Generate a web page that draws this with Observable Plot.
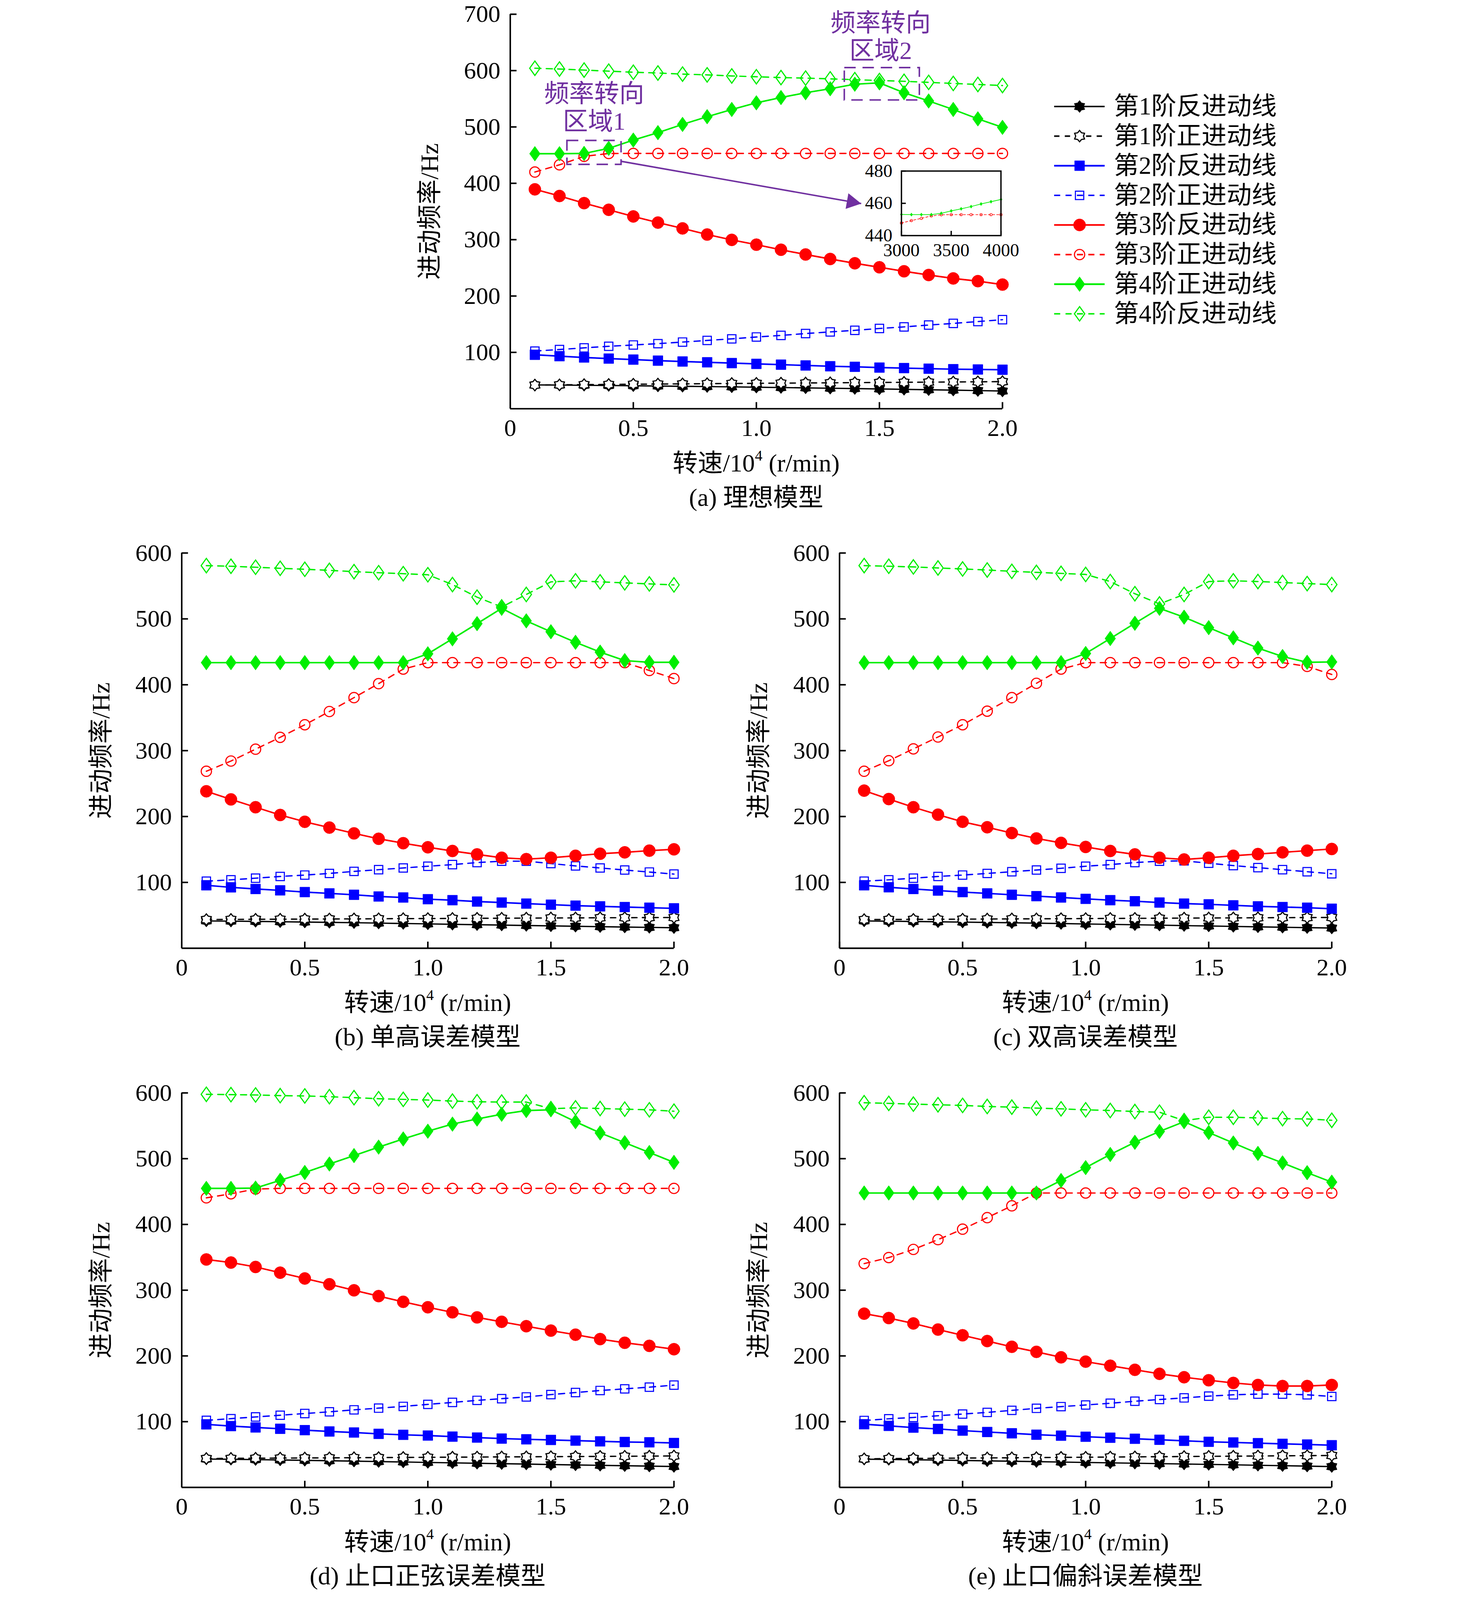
<!DOCTYPE html>
<html><head><meta charset="utf-8">
<script src="https://cdn.jsdelivr.net/npm/d3@7"></script>
<script src="https://cdn.jsdelivr.net/npm/@observablehq/plot@0.6"></script>
<style>
html,body{margin:0;padding:0;background:#fff;overflow:hidden}
#root{position:relative;width:3780px;height:4214px;background:#fff;overflow:hidden;font-family:"Liberation Serif","Noto Sans CJK SC",serif;color:#000;transform-origin:0 0}
.lbl{position:absolute;white-space:nowrap;font-size:66px;line-height:66px;height:66px;text-align:center}
.ylbl{position:absolute;white-space:nowrap;font-size:66px;line-height:1;transform:translate(-50%,-50%) rotate(-90deg)}
.lbl sup{font-size:0.6em;position:relative;top:-0.15em;vertical-align:top;line-height:1}
</style></head><body><div id="root"></div>
<script>
// ---------- data ----------
const speed = [0.1,0.2,0.3,0.4,0.5,0.6,0.7,0.8,0.9,1.0,1.1,1.2,1.3,1.4,1.5,1.6,1.7,1.8,1.9,2.0];
const seriesNames = ["第1阶反进动线","第1阶正进动线","第2阶反进动线","第2阶正进动线","第3阶反进动线","第3阶正进动线","第4阶正进动线","第4阶反进动线"];

// (a) 理想模型
const aB1 = [42.3,42.0,41.6,41.2,40.8,40.3,39.8,39.3,38.8,38.2,37.6,37.0,36.4,35.8,35.1,34.4,33.7,33.0,32.2,31.4];
const aF1 = [42.0,42.4,42.8,43.1,43.5,43.8,44.1,44.5,44.8,45.1,45.4,45.7,46.0,46.3,46.6,46.9,47.2,47.5,47.8,48.1];
const aB2 = [95.7,93.3,90.9,89.0,87.2,85.3,83.8,82.4,81.0,79.6,78.2,76.8,75.4,74.4,73.0,72.1,71.1,70.2,69.7,69.2];
const aF2 = [102.3,105.1,108.0,110.8,113.1,115.5,118.3,121.2,124.0,127.3,130.1,133.4,136.3,139.1,142.4,145.2,148.5,151.4,154.7,158.0];
const aB3 = [389.3,377.5,364.8,353.0,341.2,330.3,320.0,309.1,299.6,291.1,282.1,273.7,265.7,258.1,251.0,243.9,237.3,231.2,226.4,220.3];
const aF3 = [420.0,432.8,447.8,452.9,453.0,453.0,453.0,453.0,453.0,453.0,453.0,453.0,453.0,453.0,453.0,453.0,453.0,453.0,453.0,453.0];
const aF4 = [452.5,452.5,453.0,462.0,476.7,489.9,504.5,518.2,531.0,542.8,552.2,560.7,567.8,575.8,578.2,560.7,546.1,531.0,514.4,499.3];
const aB4 = [604.2,602.8,600.9,599.0,597.1,595.7,593.8,592.4,590.5,589.1,587.6,586.7,585.3,583.9,582.4,581.0,579.1,577.2,575.4,573.5];

// inset of (a)
const insetSpeed = [3000,3100,3200,3300,3400,3500,3600,3700,3800,3900,4000];
const insetF4 = [453.1,453.0,453.0,453.0,453.8,455.3,456.6,458.0,459.6,461.0,462.4];
const insetF3 = [447.8,449.3,450.7,452.2,452.9,453.0,453.0,453.0,453.0,453.0,453.0];

// (b) 单高误差模型
const bB1 = [41.5,41.2,40.8,40.3,39.8,39.3,38.8,38.2,37.6,37.0,36.4,35.8,35.2,34.6,34.0,33.4,32.8,32.2,31.7,31.2];
const bF1 = [43.6,43.8,44.0,44.1,44.3,44.5,44.6,44.8,45.0,45.1,45.3,45.5,45.6,45.8,46.0,46.1,46.3,46.4,46.6,46.7];
const bB2 = [95.6,92.5,90.0,87.9,85.3,83.3,81.2,78.6,77.1,74.5,73.0,70.9,69.4,67.8,66.2,64.7,63.6,62.6,61.6,60.6];
const bF2 = [101.8,103.9,106.4,109.0,111.1,113.6,116.7,119.3,121.9,124.5,127.0,130.1,132.2,132.2,128.6,125.0,121.9,118.8,115.7,112.6];
const bB3 = [238.3,226.0,214.1,202.3,192.0,183.2,174.4,166.2,159.5,153.3,147.7,142.5,137.4,135.3,137.4,140.4,143.5,145.6,148.2,150.2];
const bF3 = [268.7,284.2,302.2,320.2,339.3,359.4,380.5,401.7,423.8,433.6,433.6,433.6,433.6,433.6,433.6,433.6,433.6,433.6,421.7,409.4];
const bF4 = [433.6,433.6,433.6,433.6,433.6,433.6,433.6,433.6,433.6,447.0,469.7,492.8,516.0,497.0,480.5,464.5,449.6,436.7,434.1,434.1];
const bB4 = [580.9,579.9,578.4,576.8,575.3,573.7,571.7,570.1,568.6,567.0,552.1,533.0,518.1,537.1,556.2,557.8,556.2,554.7,553.1,551.6];

// (c) 双高误差模型
const cB1 = [41.5,41.1,40.7,40.2,39.7,39.2,38.7,38.1,37.5,36.9,36.3,35.7,35.1,34.4,33.8,33.2,32.5,31.9,31.3,30.7];
const cF1 = [43.5,43.7,43.9,44.0,44.2,44.4,44.6,44.7,44.9,45.1,45.3,45.4,45.6,45.8,46.0,46.1,46.3,46.5,46.6,46.8];
const cB2 = [95.6,92.6,90.0,87.6,85.3,83.3,81.2,79.1,77.1,75.0,73.0,71.4,69.4,67.8,66.7,65.2,63.6,62.6,61.6,60.0];
const cF2 = [101.8,103.9,106.4,109.0,111.1,113.6,116.2,118.8,121.4,124.5,127.0,130.1,132.2,132.7,129.1,125.5,122.4,119.3,116.2,113.1];
const cB3 = [239.3,226.5,214.1,202.8,192.0,183.7,174.9,166.7,160.0,153.8,147.7,142.5,137.4,134.8,137.4,140.4,143.0,145.6,148.2,150.7];
const cF3 = [268.7,284.7,302.7,320.7,339.3,359.9,380.5,402.2,423.8,433.6,433.6,433.6,433.6,433.6,433.6,433.6,433.6,433.6,427.9,415.6];
const cF4 = [433.6,433.6,433.6,433.6,433.6,433.6,433.6,433.6,433.6,447.5,470.2,493.3,516.0,502.6,486.7,471.2,455.7,442.9,434.1,434.6];
const cB4 = [580.9,579.9,578.9,577.3,575.8,574.2,572.2,570.6,569.1,567.5,556.7,538.2,522.7,537.1,556.7,557.8,556.7,555.2,553.6,552.1];

// (d) 止口正弦误差模型
const dB1 = [43.2,42.8,42.3,41.8,41.2,40.6,40.0,39.3,38.7,38.0,37.4,36.7,36.1,35.5,34.8,34.2,33.6,33.0,32.4,31.8];
const dF1 = [44.0,44.2,44.4,44.6,44.8,45.0,45.2,45.4,45.6,45.8,46.0,46.2,46.4,46.6,46.8,47.0,47.2,47.4,47.6,47.9];
const dB2 = [95.9,93.3,91.2,89.2,87.1,85.1,83.5,81.5,80.0,78.9,77.3,75.8,74.3,73.2,72.2,71.2,70.1,69.1,68.6,67.6];
const dF2 = [102.0,104.6,107.2,109.8,112.4,115.0,118.0,120.6,123.2,126.3,129.3,132.4,135.0,137.6,141.2,144.3,147.4,149.9,152.5,155.6];
const dB3 = [346.7,342.0,335.3,326.6,317.8,309.0,299.8,291.0,282.3,274.0,266.3,258.6,251.9,245.2,238.5,232.3,225.6,220.0,215.3,210.2];
const dF3 = [440.4,446.6,453.8,454.8,454.8,454.8,454.8,454.8,454.8,454.8,454.8,454.8,454.8,454.8,454.8,454.8,454.8,454.8,454.8,454.8];
const dF4 = [454.8,454.8,455.3,467.1,479.0,491.9,504.7,517.6,530.0,541.8,552.6,560.3,567.6,573.2,574.3,556.2,539.2,524.3,509.4,494.4];
const dB4 = [597.9,597.4,596.9,595.9,595.4,594.3,592.8,591.2,590.2,589.2,587.6,586.6,586.1,586.1,576.0,577.3,576.3,575.3,574.3,572.2];

// (e) 止口偏斜误差模型
const eB1 = [43.0,42.6,42.1,41.6,41.0,40.4,39.8,39.2,38.6,38.0,37.4,36.8,36.2,35.6,35.0,34.4,33.7,33.1,32.4,31.7];
const eF1 = [43.5,43.8,44.1,44.3,44.6,44.9,45.1,45.4,45.7,45.9,46.2,46.5,46.7,47.0,47.3,47.5,47.8,48.1,48.3,48.6];
const eB2 = [96.1,93.6,91.0,88.9,86.4,84.3,82.3,80.2,78.7,77.1,75.6,74.0,72.5,70.9,69.4,68.4,67.3,66.3,65.3,64.2];
const eF2 = [101.8,104.4,106.4,109.0,111.6,114.1,117.2,120.3,122.9,125.4,128.0,131.1,133.7,136.2,138.8,140.9,141.9,141.9,140.9,138.3];
const eB3 = [264.3,257.6,249.4,240.1,231.4,222.6,213.9,206.2,197.9,191.3,185.1,178.9,172.8,167.6,163.0,158.9,155.8,154.2,154.2,155.8];
const eF3 = [340.4,349.6,362.0,376.9,392.8,410.3,428.3,447.8,447.8,447.8,447.8,447.8,447.8,447.8,447.8,447.8,447.8,447.8,447.8,447.8];
const eF4 = [447.8,447.8,447.8,447.8,447.8,447.8,447.8,447.8,466.8,486.4,506.4,524.9,541.4,556.3,539.8,523.9,508.0,493.6,478.7,464.3];
const eB4 = [585.1,584.1,583.0,582.0,581.0,579.4,578.4,576.9,575.8,574.3,573.3,571.7,570.7,557.8,563.0,563.0,562.0,560.9,560.4,558.4];

// axis ticks
const xTicks = [0, 0.5, 1.0, 1.5, 2.0];
const yTicksA = [100,200,300,400,500,600,700];
const yTicksB = [100,200,300,400,500,600];
const insetXTicks = [3000,3500,4000];
const insetYTicks = [440,460,480];

// annotations of (a)
const annoBoxes = [{x1:0.231,x2:0.451,y1:433.3,y2:475.7},{x1:1.358,x2:1.663,y1:547.6,y2:605.0}];
const annoTexts = [{x:0.341,y:558.6,t:"频率转向"},{x:0.341,y:509.4,t:"区域1"},{x:1.505,y:684,t:"频率转向"},{x:1.505,y:635,t:"区域2"}];
const annoArrow = [{x1:0.451,y1:439,x2:1.426,y2:364}];

// ---------- styles ----------
const FONT = '"Liberation Serif","Noto Sans CJK SC",serif';
const PURPLE = "#7030a0";
const GREEN = "#00ee00";
function hexagram(ratio){return {draw(ctx,size){const R=Math.sqrt(size/Math.PI),r=R*ratio;for(let i=0;i<12;i++){const a=-Math.PI/2+i*Math.PI/6,rr=i%2?r:R;const px=rr*Math.cos(a),py=rr*Math.sin(a);if(i===0)ctx.moveTo(px,py);else ctx.lineTo(px,py);}ctx.closePath();}};}
const symHex = hexagram(0.68);
const symDiamond = {draw(ctx,size){const R=Math.sqrt(size/Math.PI),w=R*0.72;ctx.moveTo(0,-R);ctx.lineTo(w,0);ctx.lineTo(0,R);ctx.lineTo(-w,0);ctx.closePath();}};
const symSquare = {draw(ctx,size){const R=Math.sqrt(size/Math.PI);ctx.moveTo(-R,-R);ctx.lineTo(R,-R);ctx.lineTo(R,R);ctx.lineTo(-R,R);ctx.closePath();}};
const symArrowHead = {draw(ctx,size){const L=Math.sqrt(size/Math.PI),w=L*0.55;ctx.moveTo(0,0);ctx.lineTo(w,L);ctx.lineTo(-w,L);ctx.closePath();}};
const symCircle = {draw(ctx,size){const R=Math.sqrt(size/Math.PI);ctx.moveTo(R,0);ctx.arc(0,0,R,0,2*Math.PI);ctx.closePath();}};

const styles = [
  {color:"#000000",dash:null,width:3.5,symbol:symHex,r:16,fill:"#000000",sw:1},
  {color:"#000000",dash:"14,14",width:3.5,symbol:symHex,r:15,fill:"#ffffff",sw:3},
  {color:"#0000ff",dash:null,width:4,symbol:symSquare,r:13,fill:"#0000ff",sw:1},
  {color:"#0000ff",dash:"16,14",width:3.5,symbol:symSquare,r:11,fill:"none",sw:2.8},
  {color:"#ff0000",dash:null,width:4,symbol:symCircle,r:16,fill:"#ff0000",sw:1},
  {color:"#ff0000",dash:"16,14",width:3.5,symbol:symCircle,r:13.5,fill:"none",sw:3},
  {color:GREEN,dash:null,width:4,symbol:symDiamond,r:19.5,fill:GREEN,sw:1},
  {color:GREEN,dash:"16,14",width:3.5,symbol:symDiamond,r:19,fill:"none",sw:3}
];

const root = document.getElementById("root");
function place(el, left, top){el.style.position="absolute";el.style.left=left+"px";el.style.top=top+"px";root.appendChild(el);}
function hlabel(html, left, width, cy){const d=document.createElement("div");d.className="lbl";d.innerHTML=html;d.style.left=left+"px";d.style.width=width+"px";d.style.top=(cy-33)+"px";root.appendChild(d);}
function ylabel(html, cx, cy){const d=document.createElement("div");d.className="ylbl";d.innerHTML=html;d.style.left=cx+"px";d.style.top=cy+"px";root.appendChild(d);}

function seriesMarks(xs, arrays){
  const marks=[];
  arrays.forEach((arr,k)=>{
    const s=styles[k];
    const data=xs.map((x,i)=>({x,y:arr[i]}));
    marks.push(Plot.line(data,{x:"x",y:"y",stroke:s.color,strokeWidth:s.width,strokeDasharray:s.dash}));
    marks.push(Plot.dot(data,{x:"x",y:"y",symbol:s.symbol,r:s.r,fill:s.fill,stroke:s.color,strokeWidth:s.sw}));
  });
  return marks;
}

function panel(cfg){
  const mL=240,mR=60,mT=40,mB=100,W=1296;
  const H=cfg.yBottom-cfg.yTop;
  const marks=[
    ...seriesMarks(speed,cfg.arrays),
    Plot.ruleY([0],{strokeWidth:4}),
    Plot.ruleX([0],{strokeWidth:4}),
    Plot.axisY({ticks:cfg.yTicks,tickSize:17,dx:17,tickPadding:26,strokeWidth:4,fontSize:64,label:null,tickFormat:d=>String(d)}),
    Plot.axisX({ticks:xTicks,tickSize:17,dy:-17,tickPadding:26,strokeWidth:4,fontSize:64,label:null,tickFormat:d=>d===0?"0":d.toFixed(1)}),
    ...(cfg.extra||[])
  ];
  const svg=Plot.plot({width:mL+W+mR,height:mT+H+mB,marginLeft:mL,marginRight:mR,marginTop:mT,marginBottom:mB,
    x:{domain:[0,2],axis:null},y:{domain:[0,cfg.yMax],axis:null},
    style:{fontFamily:FONT,fontSize:"64px",background:"transparent",overflow:"visible",color:"#000"},marks});
  place(svg,cfg.x0-mL,cfg.yTop-mT);
  ylabel("进动频率/Hz",cfg.x0-212,(cfg.yTop+cfg.yBottom)/2);
  hlabel("转速/10<sup>4</sup> (r/min)",cfg.x0-200,W+400,cfg.yBottom+144);
  hlabel(cfg.caption,cfg.x0-200,W+400,cfg.yBottom+234);
}

const annoMarks=[
  Plot.rect(annoBoxes,{x1:"x1",x2:"x2",y1:"y1",y2:"y2",fill:"none",stroke:PURPLE,strokeWidth:4,strokeDasharray:"30,18"}),
  Plot.link(annoArrow,{x1:"x1",y1:"y1",x2:"x2",y2:"y2",stroke:PURPLE,strokeWidth:4}),
  Plot.dot(annoArrow,{x:"x2",y:"y2",symbol:symArrowHead,r:38,fill:PURPLE,stroke:"none",rotate:100}),
  Plot.text(annoTexts,{x:"x",y:"y",text:"t",fill:PURPLE,fontSize:66,lineAnchor:"middle"})
];

panel({x0:1343,yTop:37,yBottom:1076,yMax:700,yTicks:yTicksA,caption:"(a) 理想模型",arrays:[aB1,aF1,aB2,aF2,aB3,aF3,aF4,aB4],extra:annoMarks});
panel({x0:478,yTop:1456,yBottom:2497,yMax:600,yTicks:yTicksB,caption:"(b) 单高误差模型",arrays:[bB1,bF1,bB2,bF2,bB3,bF3,bF4,bB4]});
panel({x0:2210,yTop:1456,yBottom:2497,yMax:600,yTicks:yTicksB,caption:"(c) 双高误差模型",arrays:[cB1,cF1,cB2,cF2,cB3,cF3,cF4,cB4]});
panel({x0:478,yTop:2878,yBottom:3917,yMax:600,yTicks:yTicksB,caption:"(d) 止口正弦误差模型",arrays:[dB1,dF1,dB2,dF2,dB3,dF3,dF4,dB4]});
panel({x0:2210,yTop:2878,yBottom:3917,yMax:600,yTicks:yTicksB,caption:"(e) 止口偏斜误差模型",arrays:[eB1,eF1,eB2,eF2,eB3,eF3,eF4,eB4]});

// inset
(function(){
  const mL=110,mR=50,mT=30,mB=90,W=262,H=170;
  const s5=styles[5], s6=styles[6];
  const g=insetSpeed.map((x,i)=>({x,y:insetF4[i]}));
  const r=insetSpeed.map((x,i)=>({x,y:insetF3[i]}));
  const svg=Plot.plot({width:mL+W+mR,height:mT+H+mB,marginLeft:mL,marginRight:mR,marginTop:mT,marginBottom:mB,
    x:{domain:[3000,4000],axis:null},y:{domain:[440,480],axis:null},
    style:{fontFamily:FONT,fontSize:"48px",background:"transparent",overflow:"visible"},
    marks:[
      Plot.line(r,{x:"x",y:"y",stroke:s5.color,strokeWidth:1.6,strokeDasharray:"6,5"}),
      Plot.dot(r,{x:"x",y:"y",symbol:symCircle,r:3.2,fill:"none",stroke:s5.color,strokeWidth:1.4}),
      Plot.line(g,{x:"x",y:"y",stroke:s6.color,strokeWidth:1.8}),
      Plot.dot(g,{x:"x",y:"y",symbol:symDiamond,r:5,fill:s6.color,stroke:"none"}),
      Plot.frame({strokeWidth:3.5}),
      Plot.axisY({ticks:insetYTicks,tickSize:12,dx:12,tickPadding:24,strokeWidth:3.5,fontSize:48,label:null}),
      Plot.axisX({ticks:insetXTicks,tickSize:12,dy:-12,tickPadding:20,strokeWidth:3.5,fontSize:48,label:null,tickFormat:d=>String(d)})
    ]});
  place(svg,2373-mL,450-mT);
})();

// legend
(function(){
  const rows=seriesNames.map((name,k)=>({name,k}));
  const top=40, step=78;
  const marks=[];
  rows.forEach(d=>{
    const s=styles[d.k];
    marks.push(Plot.link([d],{x1:15,x2:148,y1:"name",y2:"name",stroke:s.color,strokeWidth:s.width+0.5,strokeDasharray:s.dash}));
    marks.push(Plot.dot([d],{x:82,y:"name",symbol:s.symbol,r:s.r,fill:s.fill,stroke:s.color,strokeWidth:s.sw}));
  });
  marks.push(Plot.text(rows,{x:172,y:"name",text:"name",textAnchor:"start",lineAnchor:"middle",fontSize:66,fill:"#000"}));
  const svg=Plot.plot({width:680,height:top*2+step*7,margin:0,
    x:{type:"linear",domain:[0,680],range:[0,680],axis:null},
    y:{type:"point",domain:seriesNames,range:[top,top+step*7],padding:0,axis:null},
    style:{fontFamily:FONT,fontSize:"66px",background:"transparent",overflow:"visible"},marks});
  place(svg,2760,280-top);
})();

// keep the whole figure inside the visible viewport
(function fit(){
  const s=Math.min(1, window.innerWidth/3780, window.innerHeight/4214);
  root.style.transform = s<1 ? `scale(${s})` : "";
})();
</script></body></html>
